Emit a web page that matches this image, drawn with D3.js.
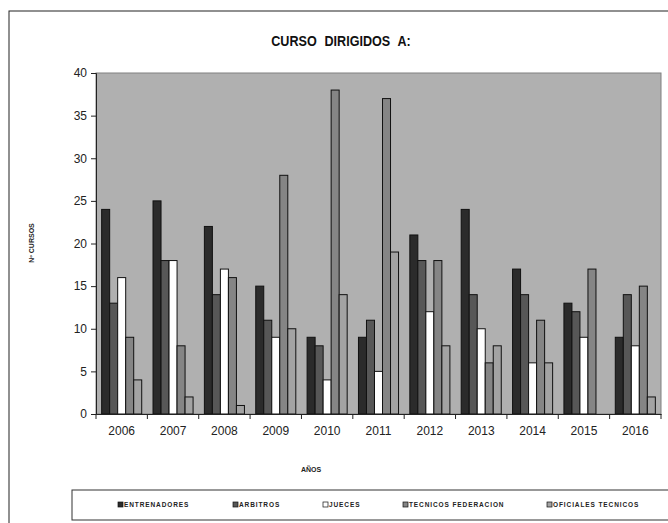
<!DOCTYPE html>
<html>
<head>
<meta charset="utf-8">
<script src="https://cdn.jsdelivr.net/npm/d3@7"></script>
<style>
  body { margin: 0; background: #fff; }
  svg text { font-family: "Liberation Sans", Arial, sans-serif; }
</style>
</head>
<body>
<svg id="chart" width="668" height="523"></svg>
<script>
const years = ["2006","2007","2008","2009","2010","2011","2012","2013","2014","2015","2016"];
const seriesNames = ["ENTRENADORES","ARBITROS","JUECES","TECNICOS FEDERACION","OFICIALES TECNICOS"];
const entrenadores = [24,25,22,15,9,9,21,24,17,13,9];
const arbitros     = [13,18,14,11,8,11,18,14,14,12,14];
const jueces       = [16,18,17,9,4,5,12,10,6,9,8];
const tecnicosFed  = [9,8,16,28,38,37,18,6,11,17,15];
const oficiales    = [4,2,1,10,14,19,8,8,6,0,2];
const yTicks = [0,5,10,15,20,25,30,35,40];

const colores = ["#2b2b2b","#575757","#ffffff","#858585","#a3a3a3"];
const valores = [entrenadores, arbitros, jueces, tecnicosFed, oficiales];

const svg = d3.select("#chart");

// marco exterior
svg.append("rect").attr("x", 9).attr("y", 11).attr("width", 680).attr("height", 530)
  .attr("fill", "#fff").attr("stroke", "#222").attr("stroke-width", 1);

const pLeft = 96, pRight = 661, pTop = 73, pBottom = 414;

const x = d3.scaleBand().domain(years).range([pLeft, pRight]).paddingInner(0.22).paddingOuter(0.11);
const x1 = d3.scaleBand().domain(d3.range(5)).range([0, x.bandwidth()]);
const y = d3.scaleLinear().domain([0, 40]).range([pBottom, pTop]);

// fondo del area de trazado
svg.append("rect").attr("x", pLeft).attr("y", pTop).attr("width", pRight - pLeft).attr("height", pBottom - pTop)
  .attr("fill", "#b0b0b0").attr("stroke", "#808080");

// titulo (fuente estrecha simulada)
svg.append("text").attr("transform", "translate(341,46) scale(0.84,1)").attr("text-anchor", "middle")
  .style("font-weight", "bold").style("font-size", "15px").style("word-spacing", "5px").attr("fill", "#111")
  .text("CURSO DIRIGIDOS A:");

// barras
const grupos = svg.append("g").selectAll("g").data(years).join("g")
  .attr("transform", d => "translate(" + x(d) + ",0)");

grupos.selectAll("rect")
  .data((d, i) => valores.map((s, k) => ({k: k, v: s[i]})).filter(e => e.v > 0))
  .join("rect")
  .attr("x", d => x1(d.k))
  .attr("y", d => y(d.v))
  .attr("width", x1.bandwidth())
  .attr("height", d => pBottom - y(d.v))
  .attr("fill", d => colores[d.k])
  .attr("stroke", "#111").attr("stroke-width", 1);

// ejes
const yAxis = d3.axisLeft(y).tickValues(yTicks).tickSize(5).tickPadding(4);
const gy = svg.append("g").attr("transform", "translate(" + pLeft + ",0)").call(yAxis);
gy.selectAll("text").style("font-size", "12px").attr("fill", "#222");
gy.selectAll("line, path").attr("stroke", "#222");

const xAxis = d3.axisBottom(x).tickSize(0).tickPadding(12);
const gx = svg.append("g").attr("transform", "translate(0," + pBottom + ")").call(xAxis);
gx.selectAll("text").style("font-size", "12px").attr("fill", "#222");
gx.select("path").attr("stroke", "#222");
// separadores de categoria
gx.selectAll(".sep").data(d3.range(years.length + 1)).join("line")
  .attr("x1", i => pLeft + i * (pRight - pLeft) / years.length)
  .attr("x2", i => pLeft + i * (pRight - pLeft) / years.length)
  .attr("y1", 0).attr("y2", 5).attr("stroke", "#222");

svg.append("text").attr("x", 311).attr("y", 472).attr("text-anchor", "middle")
  .style("font-size", "7px").style("font-weight", "bold").attr("fill", "#222").text("AÑOS");

svg.append("text").attr("transform", "translate(34,243) rotate(-90)").attr("text-anchor", "middle")
  .style("font-size", "7px").style("font-weight", "bold").attr("fill", "#222").text("Nº CURSOS");

// leyenda
svg.append("rect").attr("x", 72).attr("y", 490).attr("width", 620).attr("height", 30)
  .attr("fill", "#fff").attr("stroke", "#333");
const legX = [118, 233, 323, 403, 547];
const leg = svg.append("g").selectAll("g").data(seriesNames).join("g")
  .attr("transform", (d, i) => "translate(" + legX[i] + ",505)");
leg.append("rect").attr("x", 0).attr("y", -3).attr("width", 5).attr("height", 5)
  .attr("fill", (d, i) => colores[i]).attr("stroke", "#111").attr("stroke-width", 0.7);
leg.append("text").attr("x", 6).attr("y", 2).style("font-size", "6.5px").style("font-weight", "bold")
  .style("letter-spacing", "0.9px").attr("fill", "#222").text(d => d);
</script>
</body>
</html>
